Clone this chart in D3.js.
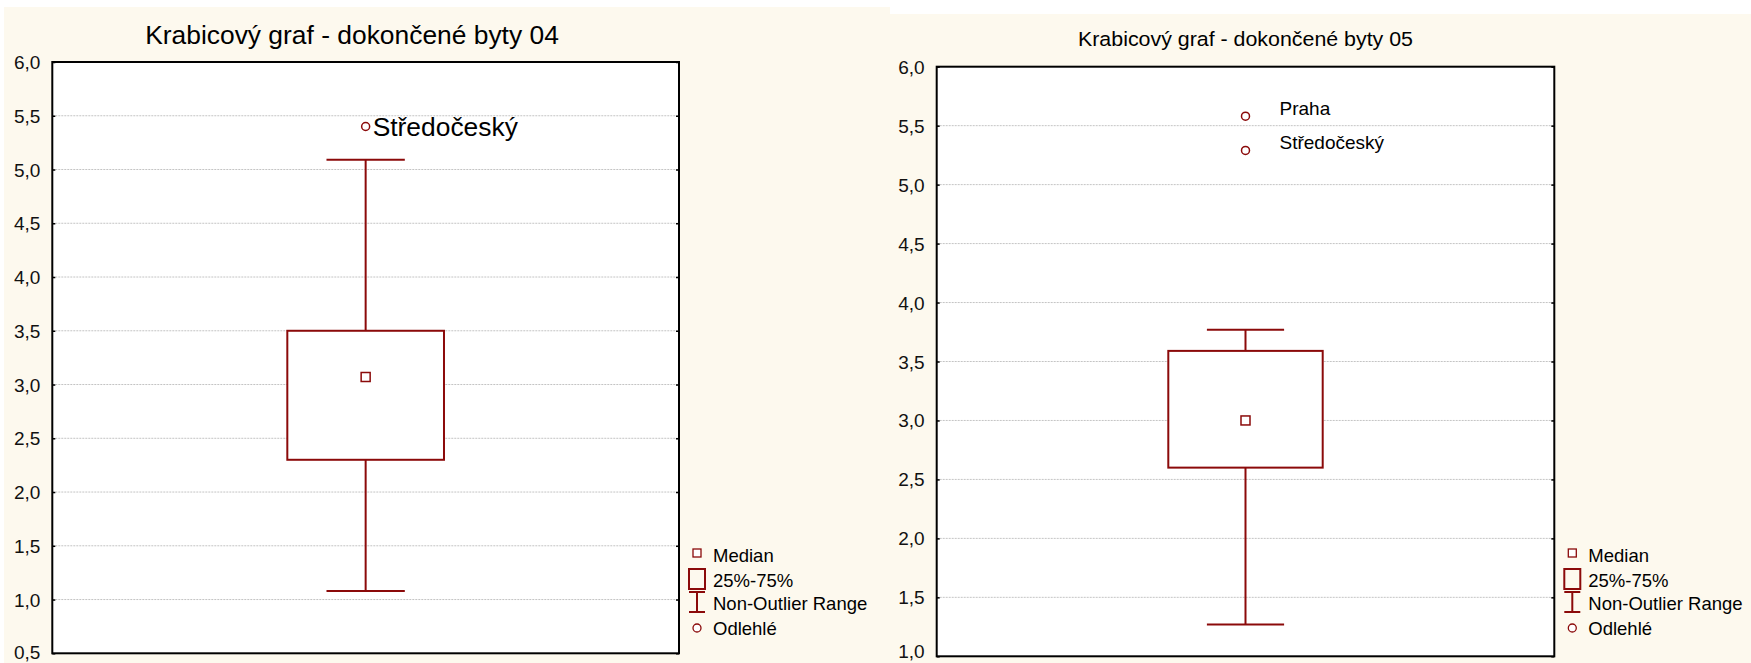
<!DOCTYPE html>
<html>
<head>
<meta charset="utf-8">
<script src="https://cdn.jsdelivr.net/npm/d3@7"></script>
<style>
  html, body { margin: 0; padding: 0; background: #ffffff; }
  svg { display: block; font-family: Arial, "Liberation Sans", sans-serif; }
</style>
</head>
<body>
<svg id="chart" width="1751" height="663"></svg>
<script>
// Box-plot summaries of completed dwellings per region, years 04 and 05
const panelIds     = ["04", "05"];
const titles       = ["Krabicový graf - dokončené byty 04", "Krabicový graf - dokončené byty 05"];
const whiskerLow   = [1.08, 1.27];
const quartile1    = [2.30, 2.60];
const medians      = [3.07, 3.00];
const quartile3    = [3.50, 3.59];
const whiskerHigh  = [5.09, 3.77];

// Outlying regions: panel index, value, name
const outlierPanel = [0, 1, 1];
const outlierValue = [5.40, 5.58, 5.29];
const outlierName  = ["Středočeský", "Praha", "Středočeský"];

// Y-axis ticks for each panel
const ticks04 = [0.5, 1.0, 1.5, 2.0, 2.5, 3.0, 3.5, 4.0, 4.5, 5.0, 5.5, 6.0];
const ticks05 = [1.0, 1.5, 2.0, 2.5, 3.0, 3.5, 4.0, 4.5, 5.0, 5.5, 6.0];

const legendLabels = ["Median", "25%-75%", "Non-Outlier Range", "Odlehlé"];

const RED = "#8b0a0a";
const cz = d3.formatLocale({ decimal: ",", thousands: " ", grouping: [3], currency: ["", " Kč"] });
const fmt = cz.format(".1f");

const svg = d3.select("#chart");

// Panel frames and styling
const layout = [
  { bg: [4, 7, 886, 656], left: 52.3, right: 679, top: 62, bottom: 653.3, ticks: ticks04,
    titleX: 352, titleY: 43.5, titleSize: 26.4, titleLen: null,
    labelSize: 26.4, labelDx: 7, labelDy: 0, labelBase: "central", lastLabelDy: -1 },
  { bg: [890, 14, 861, 649], left: 936.7, right: 1554.3, top: 66.7, bottom: 656.3, ticks: ticks05,
    titleX: 1245.5, titleY: 46, titleSize: 20.5, titleLen: 335,
    labelSize: 19, labelDx: 34, labelDy: -1, labelBase: "alphabetic", lastLabelDy: -5 }
];

layout.forEach((L, p) => {
  svg.append("rect")
    .attr("x", L.bg[0]).attr("y", L.bg[1]).attr("width", L.bg[2]).attr("height", L.bg[3])
    .attr("fill", "#fdf9ee");
});

layout.forEach((L, p) => {
  const g = svg.append("g").attr("class", "panel-" + panelIds[p]);
  const ticks = L.ticks;
  const y = d3.scaleLinear().domain([ticks[0], ticks[ticks.length - 1]]).range([L.bottom, L.top]);
  const x = d3.scaleBand().domain([panelIds[p]]).range([L.left, L.right]).paddingInner(0).paddingOuter(1.5);
  const cx = x(panelIds[p]) + x.bandwidth() / 2;
  const boxW = x.bandwidth();
  const capW = boxW / 2;

  // plot area
  g.append("rect")
    .attr("x", L.left).attr("y", L.top)
    .attr("width", L.right - L.left).attr("height", L.bottom - L.top)
    .attr("fill", "#ffffff");

  // dotted grid
  g.append("g").selectAll("line")
    .data(ticks.slice(1, -1))
    .join("line")
    .attr("x1", L.left).attr("x2", L.right)
    .attr("y1", d => y(d)).attr("y2", d => y(d))
    .attr("stroke", "#c4c4c4").attr("stroke-width", 1).attr("stroke-dasharray", "2,1");

  // y axis with comma decimals
  const axis = d3.axisLeft(y).tickValues(ticks).tickFormat(fmt).tickSize(-3).tickPadding(12);
  const ax = g.append("g").attr("transform", `translate(${L.left},0)`).call(axis);
  ax.select(".domain").remove();
  ax.selectAll(".tick line").attr("stroke", "#000").attr("stroke-width", 1.5);
  ax.selectAll(".tick text").attr("font-size", 19).attr("fill", "#111")
    .attr("font-family", "Arial, 'Liberation Sans', sans-serif")
    .attr("dy", null).attr("dominant-baseline", "central");
  // keep the lowest label inside the page edge
  ax.selectAll(".tick text").filter(d => d === ticks[0]).attr("y", L.lastLabelDy);

  const axR = g.append("g").attr("transform", `translate(${L.right},0)`)
    .call(d3.axisRight(y).tickValues(ticks).tickFormat("").tickSize(-3));
  axR.select(".domain").remove();
  axR.selectAll(".tick line").attr("stroke", "#000").attr("stroke-width", 1.5);

  // frame
  g.append("rect")
    .attr("x", L.left).attr("y", L.top)
    .attr("width", L.right - L.left).attr("height", L.bottom - L.top)
    .attr("fill", "none").attr("stroke", "#000").attr("stroke-width", 2);

  // whisker
  g.append("line")
    .attr("x1", cx).attr("x2", cx)
    .attr("y1", y(whiskerLow[p])).attr("y2", y(whiskerHigh[p]))
    .attr("stroke", RED).attr("stroke-width", 2);
  g.selectAll(".cap")
    .data([whiskerLow[p], whiskerHigh[p]])
    .join("line")
    .attr("class", "cap")
    .attr("x1", cx - capW / 2).attr("x2", cx + capW / 2)
    .attr("y1", d => y(d)).attr("y2", d => y(d))
    .attr("stroke", RED).attr("stroke-width", 2);

  // box
  g.append("rect")
    .attr("x", cx - boxW / 2).attr("y", y(quartile3[p]))
    .attr("width", boxW).attr("height", y(quartile1[p]) - y(quartile3[p]))
    .attr("fill", "#ffffff").attr("stroke", RED).attr("stroke-width", 2);

  // median marker
  g.append("rect")
    .attr("x", cx - 4.5).attr("y", y(medians[p]) - 4.5)
    .attr("width", 9).attr("height", 9)
    .attr("fill", "#ffffff").attr("stroke", RED).attr("stroke-width", 1.5);

  // outliers
  const outs = outlierValue.map((v, i) => ({ v, name: outlierName[i], panel: outlierPanel[i] }))
    .filter(d => d.panel === p);
  g.selectAll(".outlier")
    .data(outs)
    .join("circle")
    .attr("class", "outlier")
    .attr("cx", cx).attr("cy", d => y(d.v)).attr("r", 4)
    .attr("fill", "#ffffff").attr("stroke", RED).attr("stroke-width", 1.5);
  g.selectAll(".outlier-label")
    .data(outs)
    .join("text")
    .attr("class", "outlier-label")
    .attr("x", cx + L.labelDx).attr("y", d => y(d.v) + L.labelDy)
    .attr("dominant-baseline", L.labelBase)
    .attr("font-size", L.labelSize).attr("fill", "#000")
    .text(d => d.name);

  // title
  const t = g.append("text")
    .attr("x", L.titleX).attr("y", L.titleY)
    .attr("text-anchor", "middle")
    .attr("font-size", L.titleSize).attr("fill", "#000")
    .text(titles[p]);
  if (L.titleLen) t.attr("textLength", L.titleLen).attr("lengthAdjust", "spacingAndGlyphs");

  // legend
  const lx = L.right + 18;
  const rows = [555, 580, 603, 628];
  const lg = g.append("g");
  lg.append("rect").attr("x", lx - 4).attr("y", rows[0] - 6).attr("width", 8).attr("height", 8)
    .attr("fill", "#fff").attr("stroke", RED).attr("stroke-width", 1.3);
  lg.append("rect").attr("x", lx - 8).attr("y", rows[1] - 11).attr("width", 16).attr("height", 20)
    .attr("fill", "none").attr("stroke", RED).attr("stroke-width", 2);
  lg.append("line").attr("x1", lx).attr("x2", lx).attr("y1", rows[2] - 11).attr("y2", rows[2] + 9)
    .attr("stroke", RED).attr("stroke-width", 2);
  [rows[2] - 11, rows[2] + 9].forEach(yy => {
    lg.append("line").attr("x1", lx - 8).attr("x2", lx + 8).attr("y1", yy).attr("y2", yy)
      .attr("stroke", RED).attr("stroke-width", 2);
  });
  lg.append("circle").attr("cx", lx).attr("cy", rows[3]).attr("r", 4)
    .attr("fill", "#fff").attr("stroke", RED).attr("stroke-width", 1.3);
  lg.selectAll(".legend-text")
    .data(legendLabels)
    .join("text")
    .attr("class", "legend-text")
    .attr("x", L.right + 34).attr("y", (d, i) => rows[i])
    .attr("dominant-baseline", "central")
    .attr("font-size", 18.5).attr("fill", "#000")
    .text(d => d);
});
</script>
</body>
</html>
